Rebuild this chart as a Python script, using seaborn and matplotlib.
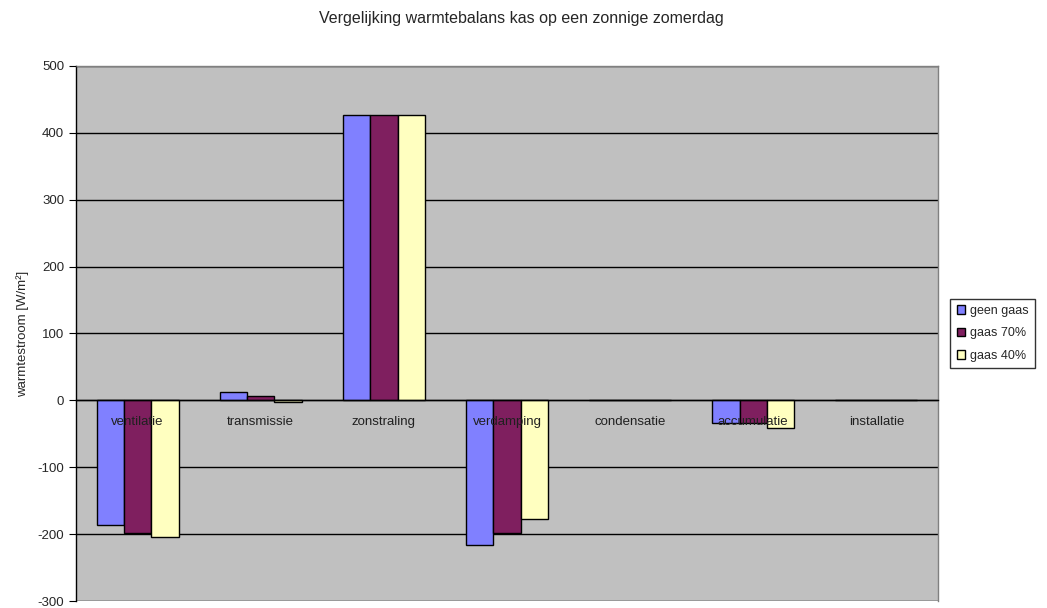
import matplotlib
matplotlib.use("Agg")
import matplotlib.pyplot as plt
import seaborn as sns
import pandas as pd
import numpy as np

categories = ["ventilatie", "transmissie", "zonstraling", "verdamping",
              "condensatie", "accumulatie", "installatie"]
geen_gaas = [-186, 12, 426, -217, 0, -34, 0]
gaas_70 = [-199, 7, 426, -199, 0, -34, 0]
gaas_40 = [-205, -2, 426, -177, 0, -41, 0]
series_names = ["geen gaas", "gaas 70%", "gaas 40%"]
y_ticks = [500, 400, 300, 200, 100, 0, -100, -200, -300]

colors = ["#8080FF", "#7F1F5F", "#FFFFC0"]

df = pd.DataFrame({
    "categorie": categories * 3,
    "waarde": geen_gaas + gaas_70 + gaas_40,
    "serie": [s for s in series_names for _ in categories],
})

sns.set_style("white")
plt.rcParams["font.family"] = ["Liberation Sans", "DejaVu Sans"]

fig = plt.figure(figsize=(10.47, 6.08), dpi=100)
ax = fig.add_axes([0.0726, 0.0115, 0.8233, 0.880])
ax.set_facecolor("#C0C0C0")

sns.barplot(data=df, x="categorie", y="waarde", hue="serie",
            palette=colors, width=0.665, edgecolor="black", linewidth=1.0,
            saturation=1, ax=ax, legend=True, zorder=2)

ax.set_ylim(-300, 500)
ax.set_xlim(-0.5, len(categories) - 0.5)
ax.set_yticks(y_ticks)
ax.set_yticklabels([str(v) for v in y_ticks], fontsize=9.5)
for v in y_ticks:
    ax.axhline(v, color="black", linewidth=1.0, zorder=1)

# category axis sits on the zero line, drawn above the bars
ax.set_axisbelow(False)
ax.spines["bottom"].set_position(("data", 0))
ax.spines["bottom"].set_color("black")
ax.spines["left"].set_color("black")
ax.spines["top"].set_color("#808080")
ax.spines["right"].set_color("#808080")
for s in ax.spines.values():
    s.set_linewidth(1.0)

ax.set_xticks(range(len(categories)))
ax.set_xticklabels(categories, fontsize=9.5, color="#202020")
ax.tick_params(axis="x", which="major", length=0, pad=11)
ax.set_xticks(np.arange(0.5, len(categories) - 0.5, 1), minor=True)
ax.tick_params(axis="x", which="minor", length=5, direction="out", color="black")
ax.tick_params(axis="y", length=5, direction="out", color="black", left=True)

ax.set_xlabel("")
ax.set_ylabel("warmtestroom [W/m²]", fontsize=9.5, labelpad=6)

fig.suptitle("Vergelijking warmtebalans kas op een zonnige zomerdag",
             fontsize=11.5, x=0.498, y=0.982)

leg = ax.legend(loc="center left", bbox_to_anchor=(1.007, 0.50),
                fontsize=9, frameon=True, fancybox=False, edgecolor="black",
                handlelength=0.7, handleheight=0.7, handletextpad=0.4,
                borderpad=0.5, labelspacing=0.85)
leg.get_frame().set_linewidth(1.0)

fig.savefig("out.png", dpi=100, facecolor="white")
